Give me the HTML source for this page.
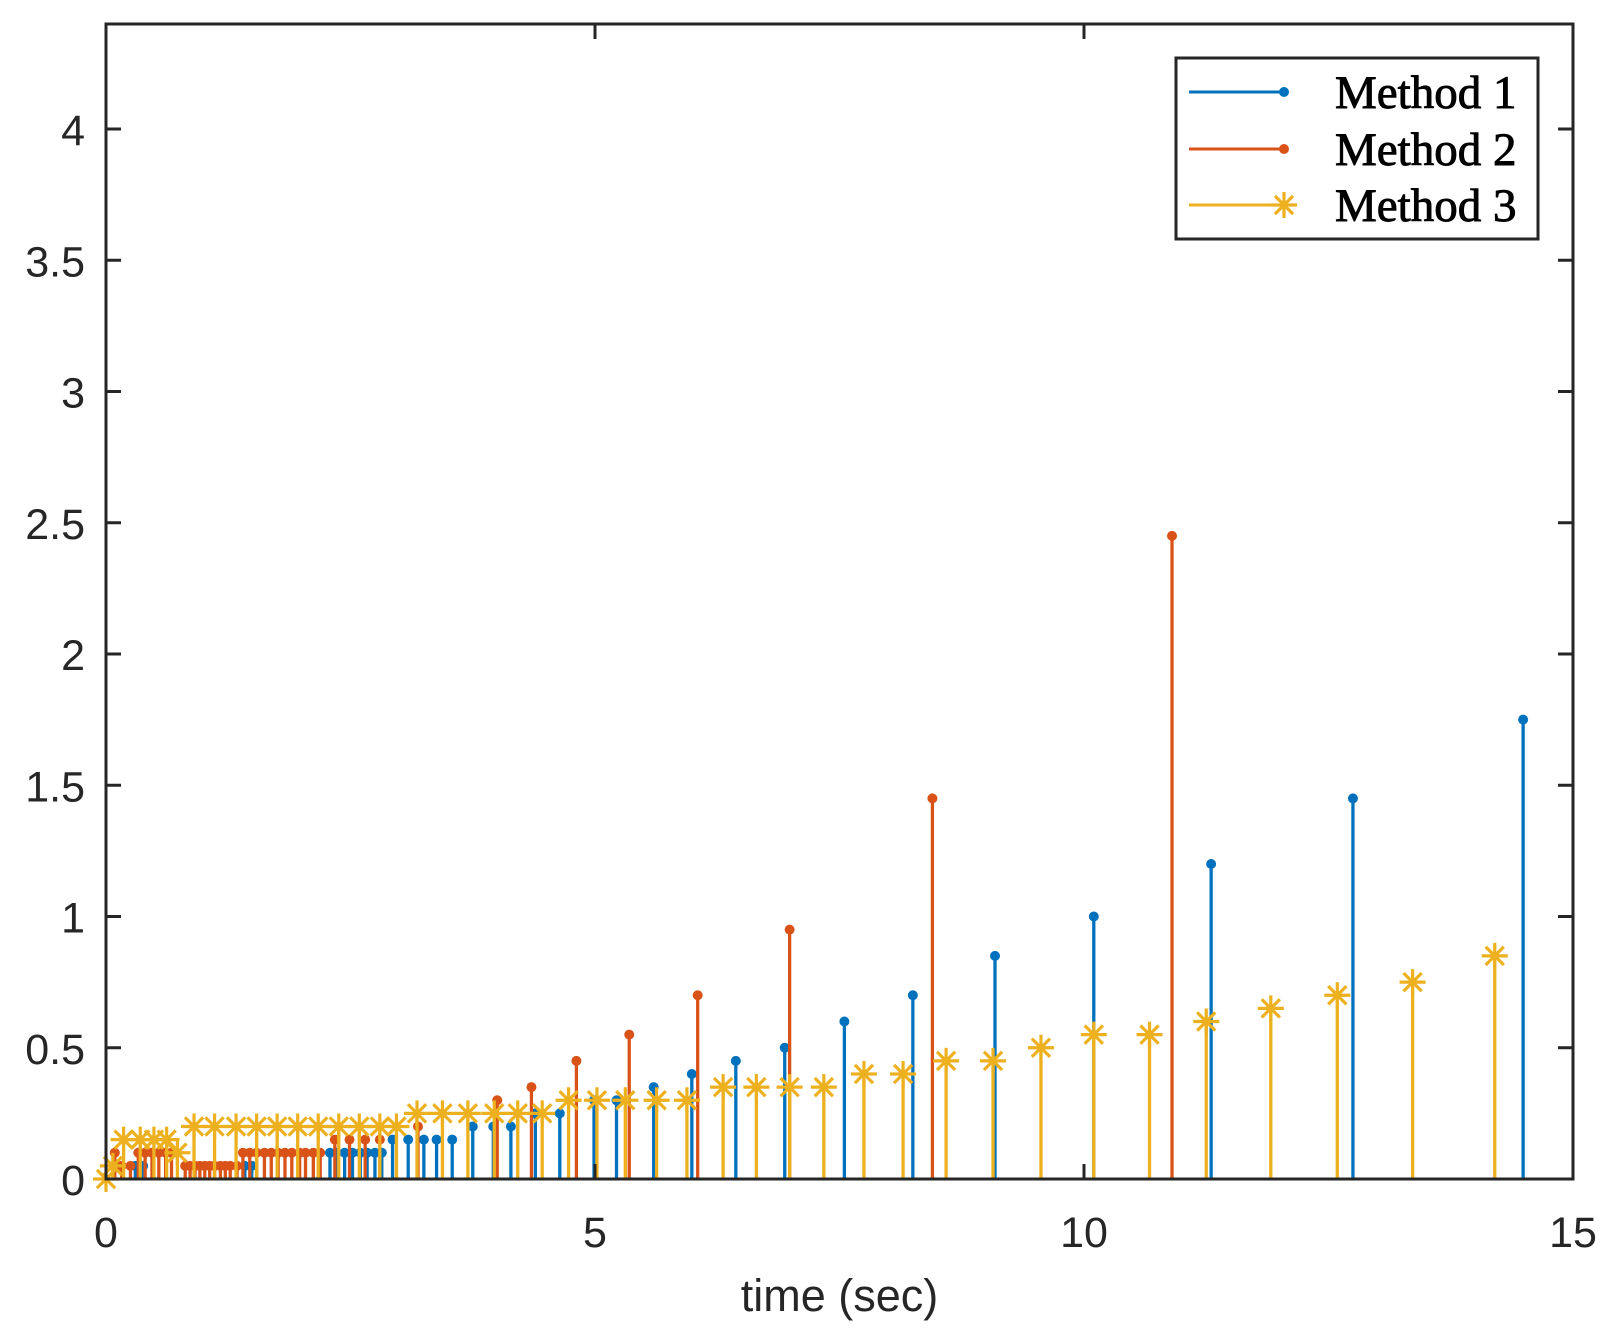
<!DOCTYPE html>
<html><head><meta charset="utf-8"><style>
html,body{margin:0;padding:0;background:#fff;}
svg{display:block;}
</style></head><body>
<svg id="chart" width="1611" height="1331" viewBox="0 0 1611 1331" xmlns="http://www.w3.org/2000/svg">
<rect width="1611" height="1331" fill="#fff"/>
<g id="marks"></g>
<g id="axes"></g>
</svg>
<script>
const xTicks=[0,5,10,15];
const yTicks=[0,0.5,1,1.5,2,2.5,3,3.5,4];
const yTickLabels=["0","0.5","1","1.5","2","2.5","3","3.5","4"];
const seriesNames=["Method 1","Method 2","Method 3"];
const m1t=[0.30,0.38,1.42,1.49,2.29,2.36,2.44,2.52,2.60,2.67,2.75,2.82,2.93,3.09,3.25,3.38,3.54,3.75,3.96,4.14,4.39,4.64,4.99,5.22,5.60,5.99,6.44,6.94,7.55,8.25,9.09,10.10,11.30,12.75,14.49];
const m1v=[0.05,0.05,0.05,0.05,0.1,0.1,0.1,0.1,0.1,0.1,0.1,0.1,0.15,0.15,0.15,0.15,0.15,0.2,0.2,0.2,0.25,0.25,0.3,0.3,0.35,0.4,0.45,0.5,0.6,0.7,0.85,1.0,1.2,1.45,1.75];
const m2t=[0.09,0.16,0.25,0.33,0.40,0.47,0.54,0.61,0.67,0.81,0.86,0.91,0.96,1.01,1.06,1.11,1.17,1.22,1.27,1.34,1.40,1.47,1.54,1.62,1.69,1.76,1.83,1.90,1.98,2.04,2.12,2.19,2.34,2.49,2.65,2.80,3.19,4.00,4.35,4.81,5.35,6.05,6.99,8.45,10.90];
const m2v=[0.1,0.05,0.05,0.1,0.1,0.1,0.1,0.1,0.1,0.05,0.05,0.05,0.05,0.05,0.05,0.05,0.05,0.05,0.05,0.05,0.1,0.1,0.1,0.1,0.1,0.1,0.1,0.1,0.1,0.1,0.1,0.1,0.15,0.15,0.15,0.15,0.2,0.3,0.35,0.45,0.55,0.7,0.95,1.45,2.45];
const m3t=[0,0.07,0.18,0.35,0.49,0.62,0.73,0.9,1.11,1.33,1.54,1.75,1.96,2.17,2.38,2.59,2.80,2.97,3.18,3.44,3.70,3.97,4.21,4.46,4.73,5.02,5.31,5.63,5.94,6.31,6.65,6.99,7.34,7.75,8.15,8.59,9.07,9.56,10.10,10.67,11.25,11.91,12.59,13.36,14.20];
const m3v=[0,0.05,0.15,0.15,0.15,0.15,0.1,0.2,0.2,0.2,0.2,0.2,0.2,0.2,0.2,0.2,0.2,0.2,0.25,0.25,0.25,0.25,0.25,0.25,0.3,0.3,0.3,0.3,0.3,0.35,0.35,0.35,0.35,0.4,0.4,0.45,0.45,0.5,0.55,0.55,0.6,0.65,0.7,0.75,0.85];

const L=106,R=1573,T=24,B=1179,XMAX=15,YMAX=4.4;
const X=t=>L+(R-L)*t/XMAX;
const Y=v=>B-(B-T)*v/YMAX;
const NS="http://www.w3.org/2000/svg";
function mk(tag,attrs,parent){const e=document.createElementNS(NS,tag);for(const k in attrs)e.setAttribute(k,attrs[k]);parent.appendChild(e);return e;}
const marks=document.getElementById('marks');
const axes=document.getElementById('axes');
const C1="#0072BD",C2="#D95319",C3="#EDB120";
function star(g,cx,cy,r,col){
  const d=`M${cx-r},${cy}H${cx+r}M${cx},${cy-r}V${cy+r}M${cx-r*0.7},${cy-r*0.7}L${cx+r*0.7},${cy+r*0.7}M${cx-r*0.7},${cy+r*0.7}L${cx+r*0.7},${cy-r*0.7}`;
  return mk('path',{d:d,stroke:col,'stroke-width':3.2,fill:'none'},g);
}
const g1=mk('g',{},marks);
const g2=mk('g',{},marks);
const g3=mk('g',{},marks);
m1t.forEach((t,i)=>{
  const s=mk('line',{x1:X(t),x2:X(t),y1:Y(0),y2:Y(m1v[i]),stroke:C1,'stroke-width':3.3},g1);
  
  
  const c=mk('circle',{cx:X(t),cy:Y(m1v[i]),r:5,fill:C1},g1);
  
  
});
m2t.forEach((t,i)=>{
  const s=mk('line',{x1:X(t),x2:X(t),y1:Y(0),y2:Y(m2v[i]),stroke:C2,'stroke-width':3.3},g2);
  
  
  const c=mk('circle',{cx:X(t),cy:Y(m2v[i]),r:5,fill:C2},g2);
  
  
});
m3t.forEach((t,i)=>{
  const s=mk('line',{x1:X(t),x2:X(t),y1:Y(0),y2:Y(m3v[i]),stroke:C3,'stroke-width':3.3},g3);
  
  
  const p=star(g3,X(t),Y(m3v[i]),13,C3);
  
  
});
const box=mk('rect',{x:L,y:T,width:R-L,height:B-T,fill:'none',stroke:'#262626','stroke-width':3},axes);


const tl=15;
xTicks.forEach(v=>{
  mk('line',{x1:X(v),x2:X(v),y1:B,y2:B-tl,stroke:'#262626','stroke-width':3},axes);
  mk('line',{x1:X(v),x2:X(v),y1:T,y2:T+tl,stroke:'#262626','stroke-width':3},axes);
  const tx=mk('text',{x:X(v),y:1247,'text-anchor':'middle','font-family':'Liberation Sans, sans-serif','font-size':43,fill:'#262626'},axes);
  tx.textContent=String(v);
  
  
});
yTicks.forEach((v,i)=>{
  mk('line',{x1:L,x2:L+tl,y1:Y(v),y2:Y(v),stroke:'#262626','stroke-width':3},axes);
  mk('line',{x1:R,x2:R-tl,y1:Y(v),y2:Y(v),stroke:'#262626','stroke-width':3},axes);
  const tx=mk('text',{x:85,y:Y(v)+16,'text-anchor':'end','font-family':'Liberation Sans, sans-serif','font-size':43,fill:'#262626'},axes);
  tx.textContent=yTickLabels[i];
  
  
});
const xl=mk('text',{x:(L+R)/2,y:1311,'text-anchor':'middle','font-family':'Liberation Sans, sans-serif','font-size':45,fill:'#262626'},axes);
xl.textContent='time (sec)';


const lg=mk('g',{},axes);


mk('rect',{x:1176,y:58,width:362,height:181,fill:'#fff',stroke:'#262626','stroke-width':3},lg);
const cols=[C1,C2,C3];
[92,149,205].forEach((yy,i)=>{
  const e=mk('g',{},lg);
  
  
  mk('line',{x1:1189,x2:1284,y1:yy,y2:yy,stroke:cols[i],'stroke-width':3},e);
  if(i<2) mk('circle',{cx:1284,cy:yy,r:5,fill:cols[i]},e);
  else star(e,1284,yy,13,C3);
  const t=mk('text',{x:1335,y:yy+16,'font-family':'Liberation Serif, serif','font-size':47,fill:'#000',stroke:'#000','stroke-width':0.9},e);
  t.textContent=seriesNames[i];
});
</script>
</body></html>
